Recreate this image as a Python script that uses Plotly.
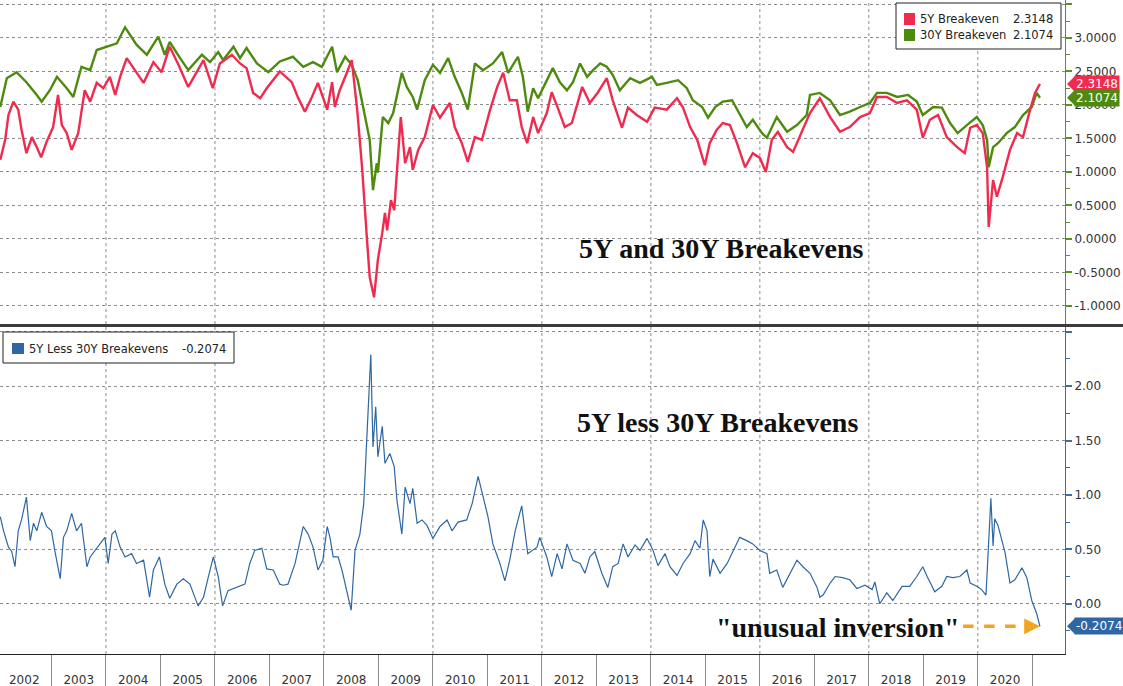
import plotly.graph_objects as go

# ---------------- data (decimal years) ----------------
T5 = [2002.06, 2002.15, 2002.21, 2002.30, 2002.39, 2002.45, 2002.54, 2002.64, 2002.73, 2002.81,
      2002.91, 2003.03, 2003.12, 2003.19, 2003.28, 2003.37, 2003.49, 2003.61, 2003.71, 2003.83,
      2003.95, 2004.07, 2004.17, 2004.26, 2004.38, 2004.50, 2004.69, 2004.87, 2005.02, 2005.17,
      2005.33, 2005.51, 2005.63, 2005.79, 2005.96, 2006.09, 2006.31, 2006.46, 2006.58, 2006.70,
      2006.83, 2006.95, 2007.19, 2007.41, 2007.52, 2007.65, 2007.78, 2007.89, 2008.06, 2008.15,
      2008.20, 2008.29, 2008.42, 2008.51, 2008.61, 2008.70, 2008.79, 2008.84, 2008.92, 2008.99,
      2009.07, 2009.12, 2009.16, 2009.23, 2009.29, 2009.34, 2009.41, 2009.49, 2009.58, 2009.63,
      2009.73, 2009.85, 2010.00, 2010.13, 2010.31, 2010.40, 2010.53, 2010.64, 2010.77, 2010.90,
      2011.05, 2011.18, 2011.29, 2011.41, 2011.54, 2011.63, 2011.73, 2011.84, 2011.93, 2012.09,
      2012.18, 2012.29, 2012.42, 2012.55, 2012.64, 2012.74, 2012.88, 2013.03, 2013.19, 2013.30,
      2013.47, 2013.58, 2013.74, 2013.93, 2014.07, 2014.29, 2014.48, 2014.59, 2014.72, 2014.85,
      2014.99, 2015.08, 2015.21, 2015.32, 2015.45, 2015.58, 2015.73, 2015.87, 2016.00, 2016.11,
      2016.22, 2016.33, 2016.50, 2016.61, 2016.77, 2016.92, 2017.10, 2017.29, 2017.47, 2017.65,
      2017.84, 2018.02, 2018.15, 2018.33, 2018.52, 2018.70, 2018.88, 2018.99, 2019.12, 2019.27,
      2019.43, 2019.62, 2019.76, 2019.86, 2019.98, 2020.09, 2020.17, 2020.20, 2020.28, 2020.35,
      2020.46, 2020.59, 2020.72, 2020.83, 2020.96, 2021.05, 2021.14]
V5 = [1.18, 1.48, 1.85, 2.05, 1.93, 1.63, 1.28, 1.52, 1.37, 1.22,
      1.45, 1.67, 2.15, 1.70, 1.58, 1.33, 1.58, 2.22, 2.05, 2.33,
      2.25, 2.42, 2.15, 2.42, 2.70, 2.55, 2.33, 2.64, 2.49, 2.87,
      2.60, 2.27, 2.45, 2.67, 2.25, 2.62, 2.75, 2.62, 2.55, 2.18,
      2.10, 2.25, 2.50, 2.34, 2.12, 1.90, 2.12, 2.33, 1.93, 2.34,
      1.97, 2.22, 2.48, 2.67, 1.93, 1.07, -0.01, -0.57, -0.87, -0.31,
      0.09, 0.39, 0.13, 0.58, 0.43, 1.03, 1.82, 1.13, 1.37, 1.03,
      1.33, 1.52, 2.00, 1.81, 2.03, 1.67, 1.43, 1.15, 1.52, 1.48,
      1.93, 2.27, 2.48, 2.07, 2.07, 1.67, 1.43, 1.82, 1.58, 1.88,
      2.19, 1.96, 1.67, 1.73, 1.97, 2.27, 2.03, 2.19, 2.40, 2.07,
      1.66, 1.96, 1.85, 1.75, 1.96, 1.93, 2.10, 1.96, 1.67, 1.48,
      1.10, 1.43, 1.63, 1.73, 1.70, 1.43, 1.07, 1.28, 1.21, 1.00,
      1.48, 1.60, 1.37, 1.30, 1.60, 1.88, 2.10, 1.82, 1.60, 1.67,
      1.82, 1.88, 2.12, 2.12, 2.03, 2.07, 1.93, 1.51, 1.78, 1.85,
      1.52, 1.37, 1.28, 1.66, 1.70, 1.58, 1.07, 0.18, 0.88, 0.63,
      0.93, 1.33, 1.58, 1.52, 1.93, 2.18, 2.3148]

T30 = [2002.06, 2002.18, 2002.36, 2002.54, 2002.73, 2002.82, 2002.97, 2003.10, 2003.28, 2003.40,
       2003.55, 2003.71, 2003.83, 2004.01, 2004.20, 2004.35, 2004.56, 2004.75, 2004.96, 2005.08,
       2005.17, 2005.36, 2005.51, 2005.76, 2005.91, 2006.06, 2006.15, 2006.34, 2006.46, 2006.58,
       2006.77, 2006.98, 2007.19, 2007.43, 2007.62, 2007.80, 2007.96, 2008.15, 2008.24, 2008.39,
       2008.51, 2008.62, 2008.75, 2008.84, 2008.90, 2008.97, 2008.99, 2009.08, 2009.18, 2009.27,
       2009.43, 2009.52, 2009.63, 2009.71, 2009.85, 2010.00, 2010.13, 2010.28, 2010.40, 2010.53,
       2010.64, 2010.77, 2010.92, 2011.10, 2011.27, 2011.38, 2011.56, 2011.65, 2011.74, 2011.84,
       2011.93, 2012.09, 2012.20, 2012.33, 2012.46, 2012.57, 2012.70, 2012.83, 2012.94, 2013.07,
       2013.19, 2013.30, 2013.43, 2013.62, 2013.80, 2014.02, 2014.11, 2014.29, 2014.50, 2014.66,
       2014.77, 2014.94, 2015.05, 2015.18, 2015.32, 2015.49, 2015.63, 2015.76, 2015.87, 2016.04,
       2016.13, 2016.31, 2016.50, 2016.68, 2016.86, 2016.92, 2017.10, 2017.29, 2017.47, 2017.65,
       2017.84, 2018.02, 2018.15, 2018.33, 2018.52, 2018.72, 2018.88, 2018.99, 2019.18, 2019.34,
       2019.49, 2019.63, 2019.80, 2019.98, 2020.09, 2020.17, 2020.20, 2020.28, 2020.37, 2020.53,
       2020.68, 2020.83, 2020.99, 2021.08, 2021.14]
V30 = [1.97, 2.40, 2.49, 2.34, 2.15, 2.05, 2.22, 2.42, 2.25, 2.12,
       2.57, 2.52, 2.82, 2.87, 2.92, 3.16, 2.90, 2.75, 3.02, 2.75,
       2.94, 2.70, 2.52, 2.75, 2.64, 2.79, 2.67, 2.87, 2.70, 2.85,
       2.62, 2.49, 2.65, 2.72, 2.57, 2.64, 2.57, 2.87, 2.49, 2.72,
       2.60, 2.37, 1.82, 1.48, 0.73, 1.13, 0.99, 1.82, 1.73, 1.88,
       2.48, 2.27, 2.12, 1.93, 2.37, 2.60, 2.48, 2.70, 2.42, 2.18,
       1.93, 2.62, 2.52, 2.62, 2.79, 2.48, 2.72, 2.42, 1.90, 2.25,
       2.10, 2.37, 2.55, 2.34, 2.22, 2.34, 2.62, 2.42, 2.52, 2.62,
       2.57, 2.45, 2.22, 2.40, 2.33, 2.42, 2.30, 2.33, 2.37, 2.25,
       2.07, 1.97, 1.81, 1.97, 2.05, 2.07, 1.85, 1.67, 1.78, 1.58,
       1.51, 1.82, 1.60, 1.70, 1.85, 2.15, 2.18, 2.07, 1.85, 1.90,
       1.97, 2.03, 2.18, 2.18, 2.12, 2.15, 2.05, 1.85, 1.97, 1.96,
       1.73, 1.58, 1.70, 1.82, 1.70, 1.48, 1.07, 1.37, 1.43, 1.58,
       1.67, 1.85, 1.97, 2.18, 2.1074]

TS = [2002.06, 2002.12, 2002.21, 2002.27, 2002.33, 2002.39, 2002.45, 2002.54, 2002.61, 2002.67,
      2002.73, 2002.82, 2002.91, 2003.00, 2003.06, 2003.16, 2003.22, 2003.28, 2003.37, 2003.46,
      2003.55, 2003.65, 2003.71, 2003.80, 2003.89, 2003.98, 2004.04, 2004.11, 2004.17, 2004.26,
      2004.35, 2004.47, 2004.56, 2004.69, 2004.80, 2004.87, 2004.98, 2005.08, 2005.17, 2005.30,
      2005.42, 2005.54, 2005.69, 2005.79, 2005.88, 2005.97, 2006.06, 2006.14, 2006.24, 2006.40,
      2006.55, 2006.64, 2006.73, 2006.86, 2006.95, 2007.07, 2007.19, 2007.25, 2007.34, 2007.47,
      2007.62, 2007.71, 2007.80, 2007.89, 2007.98, 2008.06, 2008.11, 2008.17, 2008.26, 2008.33,
      2008.42, 2008.50, 2008.57, 2008.66, 2008.73, 2008.79, 2008.83, 2008.86, 2008.90, 2008.95,
      2008.99, 2009.07, 2009.12, 2009.21, 2009.29, 2009.34, 2009.43, 2009.49, 2009.58, 2009.63,
      2009.71, 2009.80, 2009.89, 2010.00, 2010.13, 2010.26, 2010.35, 2010.46, 2010.62, 2010.72,
      2010.83, 2010.92, 2011.01, 2011.10, 2011.23, 2011.32, 2011.41, 2011.51, 2011.63, 2011.74,
      2011.91, 2011.96, 2012.09, 2012.18, 2012.28, 2012.37, 2012.46, 2012.57, 2012.70, 2012.79,
      2012.88, 2012.97, 2013.10, 2013.21, 2013.30, 2013.40, 2013.49, 2013.58, 2013.71, 2013.80,
      2013.93, 2014.04, 2014.13, 2014.26, 2014.35, 2014.48, 2014.59, 2014.72, 2014.81, 2014.90,
      2014.96, 2015.03, 2015.08, 2015.14, 2015.27, 2015.40, 2015.51, 2015.63, 2015.76, 2015.87,
      2016.00, 2016.13, 2016.18, 2016.31, 2016.42, 2016.55, 2016.68, 2016.79, 2016.92, 2017.05,
      2017.10, 2017.16, 2017.29, 2017.38, 2017.52, 2017.65, 2017.78, 2017.93, 2018.06, 2018.11,
      2018.20, 2018.33, 2018.44, 2018.61, 2018.75, 2018.88, 2018.99, 2019.07, 2019.21, 2019.34,
      2019.43, 2019.54, 2019.67, 2019.80, 2019.86, 2019.98, 2020.07, 2020.15, 2020.20, 2020.24,
      2020.28, 2020.31, 2020.37, 2020.44, 2020.50, 2020.59, 2020.68, 2020.81, 2020.90, 2020.99,
      2021.08, 2021.14]
VS = [0.80, 0.67, 0.52, 0.48, 0.34, 0.67, 0.77, 0.98, 0.58, 0.74,
      0.67, 0.84, 0.71, 0.67, 0.49, 0.23, 0.61, 0.67, 0.83, 0.67,
      0.74, 0.34, 0.43, 0.49, 0.55, 0.61, 0.37, 0.64, 0.67, 0.52,
      0.43, 0.46, 0.37, 0.40, 0.06, 0.31, 0.43, 0.18, 0.05, 0.18,
      0.23, 0.18, -0.02, 0.06, 0.25, 0.43, 0.25, -0.02, 0.12, 0.15,
      0.18, 0.37, 0.49, 0.51, 0.32, 0.31, 0.18, 0.17, 0.18, 0.37,
      0.71, 0.64, 0.52, 0.31, 0.40, 0.71, 0.61, 0.43, 0.43, 0.31,
      0.12, -0.06, 0.49, 0.64, 0.92, 1.60, 1.96, 2.29, 1.44, 1.81,
      1.35, 1.63, 1.29, 1.38, 1.26, 0.95, 0.64, 1.07, 0.92, 1.06,
      0.74, 0.77, 0.72, 0.60, 0.71, 0.77, 0.67, 0.75, 0.77, 0.92,
      1.17, 0.98, 0.80, 0.55, 0.37, 0.21, 0.40, 0.67, 0.90, 0.46,
      0.52, 0.61, 0.43, 0.25, 0.46, 0.32, 0.55, 0.40, 0.37, 0.28,
      0.43, 0.48, 0.28, 0.15, 0.34, 0.37, 0.55, 0.43, 0.54, 0.49,
      0.60, 0.49, 0.35, 0.46, 0.34, 0.26, 0.37, 0.46, 0.58, 0.51,
      0.77, 0.67, 0.25, 0.41, 0.28, 0.37, 0.49, 0.61, 0.58, 0.55,
      0.49, 0.46, 0.28, 0.31, 0.15, 0.28, 0.40, 0.34, 0.28, 0.15,
      0.06, 0.08, 0.19, 0.25, 0.24, 0.22, 0.14, 0.17, 0.13, 0.20,
      0.00, 0.10, 0.03, 0.16, 0.16, 0.25, 0.34, 0.25, 0.11, 0.16,
      0.25, 0.24, 0.25, 0.31, 0.19, 0.16, 0.13, 0.08, 0.53, 0.97,
      0.53, 0.78, 0.72, 0.59, 0.47, 0.19, 0.22, 0.33, 0.24, 0.03,
      -0.09, -0.2074]

YEARS = [2002, 2003, 2004, 2005, 2006, 2007, 2008, 2009, 2010, 2011,
         2012, 2013, 2014, 2015, 2016, 2017, 2018, 2019, 2020]
YEAR_BOUNDS = YEARS + [2021]
GRID_YEARS = [2004, 2006, 2008, 2010, 2012, 2014, 2016, 2018, 2020]
TOP_TICKS = [-1.0, -0.5, 0.0, 0.5, 1.0, 1.5, 2.0, 2.5, 3.0, 3.5]
TOP_MINOR = [-0.75, -0.25, 0.25, 0.75, 1.25, 1.75, 2.25, 2.75, 3.25]
BOT_TICKS = [0.0, 0.5, 1.0, 1.5, 2.0, 2.5]
BOT_TICKTEXT = ["0.00", "0.50", "1.00", "1.50", "2.00", ""]
BOT_MINOR = [-0.25, 0.25, 0.75, 1.25, 1.75, 2.25]

NAME5 = "5Y Breakeven"
NAME30 = "30Y Breakeven"
NAMES = "5Y Less 30Y Breakevens"

# ---------------- style ----------------
RED = "#EF2B4F"
GREEN = "#4F8A10"
BLUE = "#2E67A3"
AX_GREEN = "#5E9020"
AX_BLUE = "#3A70A8"
ORANGE = "#F3A41F"
GRID = "#8C8C8C"
TXT = "#333333"
TICKFONT = dict(family="DejaVu Sans", size=12, color=TXT)
TITLEFONT = dict(family="Liberation Serif", size=28, color="#111111")

W, H = 1123, 686
ML, MR, MT, MB = 0, 58, 0, 32
PW, PH = W - ML - MR, H - MT - MB
XR = [2002.055, 2021.60]
BOT_DOM = [0.0, 0.5]
TOP_DOM = [0.5046, 1.0]
TOP_RANGE = [-1.269, 3.567]
BOT_RANGE = [-0.462, 2.543]

fig = go.Figure()
fig.add_trace(go.Scatter(x=T30, y=V30, mode="lines", name=NAME30,
                         line=dict(color=GREEN, width=2.4), xaxis="x2", yaxis="y2"))
fig.add_trace(go.Scatter(x=T5, y=V5, mode="lines", name=NAME5,
                         line=dict(color=RED, width=2.4), xaxis="x2", yaxis="y2"))
fig.add_trace(go.Scatter(x=TS, y=VS, mode="lines", name=NAMES,
                         line=dict(color=BLUE, width=1.2), xaxis="x", yaxis="y"))

shapes = []
annotations = []

# vertical dotted gridlines every two years in both panels
for yr in GRID_YEARS:
    for dom in (BOT_DOM, TOP_DOM):
        shapes.append(dict(type="line", xref="x", yref="paper", x0=yr, x1=yr,
                           y0=dom[0], y1=dom[1], layer="below",
                           line=dict(color=GRID, width=1, dash="dot")))

# panel separator
sep_y = (TOP_DOM[0] + BOT_DOM[1]) / 2
shapes.append(dict(type="line", xref="paper", yref="paper", x0=0, x1=W / PW,
                   y0=sep_y, y1=sep_y, line=dict(color="#3C3C3C", width=3)))


def paper_y(v, rng, dom):
    return dom[0] + (v - rng[0]) / (rng[1] - rng[0]) * (dom[1] - dom[0])


def px_x(p):
    return p / PW


def px_y(p):
    return (PH - p) / PH


# last-value tags on right axis
def value_tag(v, color, rng, dom, text):
    yp = paper_y(v, rng, dom)
    h = 8 / PH
    shapes.append(dict(type="path", xref="paper", yref="paper",
                       path=f"M {px_x(1067)},{yp} L {px_x(1075)},{yp + h} L {px_x(1075)},{yp - h} Z",
                       fillcolor=color, line=dict(width=0)))
    annotations.append(dict(xref="paper", yref="paper", x=px_x(1074), y=yp,
                            xanchor="left", yanchor="middle", text=text, showarrow=False,
                            bgcolor=color, borderpad=1,
                            font=dict(family="DejaVu Sans", size=12, color="white")))


value_tag(V5[-1], RED, TOP_RANGE, TOP_DOM, f"{V5[-1]:.4f}")
value_tag(V30[-1], GREEN, TOP_RANGE, TOP_DOM, f"{V30[-1]:.4f}")
value_tag(VS[-1], BLUE, BOT_RANGE, BOT_DOM, f"{VS[-1]:.4f}")

# legend boxes (drawn manually to match the square swatches)
LEGFONT = dict(family="DejaVu Sans", size=11.5, color="#222222")
shapes.append(dict(type="rect", xref="paper", yref="paper", x0=px_x(896), x1=px_x(1061),
                   y0=px_y(49), y1=px_y(3), line=dict(color="#222222", width=1),
                   fillcolor="white"))
for i, (nm, col, val) in enumerate([(NAME5, RED, V5[-1]), (NAME30, GREEN, V30[-1])]):
    cy = 19 + 16 * i
    shapes.append(dict(type="rect", xref="paper", yref="paper", x0=px_x(904), x1=px_x(915),
                       y0=px_y(cy + 6), y1=px_y(cy - 6), line=dict(width=0), fillcolor=col))
    annotations.append(dict(xref="paper", yref="paper", x=px_x(918), y=px_y(cy),
                            xanchor="left", yanchor="middle", text=nm, showarrow=False,
                            font=LEGFONT))
    annotations.append(dict(xref="paper", yref="paper", x=px_x(1055), y=px_y(cy),
                            xanchor="right", yanchor="middle", text=f"{val:.4f}",
                            showarrow=False, font=LEGFONT))

shapes.append(dict(type="rect", xref="paper", yref="paper", x0=px_x(3), x1=px_x(234),
                   y0=px_y(363), y1=px_y(332), line=dict(color="#222222", width=1),
                   fillcolor="white"))
shapes.append(dict(type="rect", xref="paper", yref="paper", x0=px_x(12), x1=px_x(24),
                   y0=px_y(354), y1=px_y(343), line=dict(width=0), fillcolor=BLUE))
annotations.append(dict(xref="paper", yref="paper", x=px_x(27), y=px_y(348.5),
                        xanchor="left", yanchor="middle", text=NAMES, showarrow=False,
                        font=LEGFONT))
annotations.append(dict(xref="paper", yref="paper", x=px_x(228), y=px_y(348.5),
                        xanchor="right", yanchor="middle", text=f"{VS[-1]:.4f}",
                        showarrow=False, font=LEGFONT))

# chart titles
annotations.append(dict(xref="paper", yref="paper", x=px_x(721), y=px_y(248),
                        xanchor="center", yanchor="middle", showarrow=False,
                        text="<b>5Y and 30Y Breakevens</b>", font=TITLEFONT))
annotations.append(dict(xref="paper", yref="paper", x=px_x(717), y=px_y(422),
                        xanchor="center", yanchor="middle", showarrow=False,
                        text="<b>5Y less 30Y Breakevens</b>", font=TITLEFONT))
annotations.append(dict(xref="paper", yref="paper", x=px_x(962), y=px_y(627),
                        xanchor="right", yanchor="middle", showarrow=False,
                        text="<b>\"unusual inversion\"</b>", font=TITLEFONT))

# orange dashed arrow to the last spread value
shapes.append(dict(type="line", xref="x", yref="y", x0=2019.73, x1=TS[-1] - 0.12,
                   y0=VS[-1], y1=VS[-1], line=dict(color=ORANGE, width=3.5, dash="dash")))
annotations.append(dict(xref="x", yref="y", x=TS[-1], y=VS[-1], ax=-10, ay=0,
                        axref="pixel", ayref="pixel", text="", showarrow=True,
                        arrowhead=2, arrowsize=0.9, arrowwidth=3.5, arrowcolor=ORANGE))

fig.update_layout(
    width=W, height=H, margin=dict(l=ML, r=MR, t=MT, b=MB),
    paper_bgcolor="white", plot_bgcolor="white", showlegend=False,
    shapes=shapes, annotations=annotations,
    xaxis=dict(domain=[0, 1], range=XR, anchor="y", showline=True, linecolor="#222222",
               linewidth=1, showgrid=False, zeroline=False,
               tickmode="array", tickvals=[y + 0.5 for y in YEARS],
               ticktext=[str(y) for y in YEARS], ticks="outside", ticklen=15,
               tickcolor="rgba(0,0,0,0)", tickfont=TICKFONT,
               minor=dict(tickmode="array", tickvals=YEAR_BOUNDS, ticks="outside",
                          ticklen=32, tickwidth=1, tickcolor="#8A8A8A", showgrid=False)),
    xaxis2=dict(domain=[0, 1], range=XR, anchor="y2", matches="x", showline=False,
                showgrid=False, zeroline=False, showticklabels=False, ticks=""),
    yaxis=dict(domain=BOT_DOM, range=BOT_RANGE, side="right", anchor="x",
               showline=True, linecolor=AX_BLUE, linewidth=1, zeroline=False,
               tickmode="array", tickvals=BOT_TICKS, ticktext=BOT_TICKTEXT,
               ticks="outside", ticklen=6, tickwidth=2, tickcolor=AX_BLUE,
               tickfont=TICKFONT, showgrid=True, gridcolor=GRID, gridwidth=1, griddash="dot",
               minor=dict(tickmode="array", tickvals=BOT_MINOR, ticks="outside", ticklen=4,
                          tickwidth=1, tickcolor=AX_BLUE, showgrid=False)),
    yaxis2=dict(domain=TOP_DOM, range=TOP_RANGE, side="right", anchor="x2",
                showline=True, linecolor=AX_GREEN, linewidth=1, zeroline=False,
                tickmode="array", tickvals=TOP_TICKS,
                ticktext=[f"{t:.4f}" for t in TOP_TICKS],
                ticks="outside", ticklen=6, tickwidth=2, tickcolor=AX_GREEN,
                tickfont=TICKFONT, showgrid=True, gridcolor=GRID, gridwidth=1, griddash="dot",
                minor=dict(tickmode="array", tickvals=TOP_MINOR, ticks="outside", ticklen=4,
                           tickwidth=1, tickcolor=AX_GREEN, showgrid=False)),
)

fig.write_html("out.html", config={"displayModeBar": False},
               post_script="document.body.style.margin='0';document.body.style.overflow='hidden';")
